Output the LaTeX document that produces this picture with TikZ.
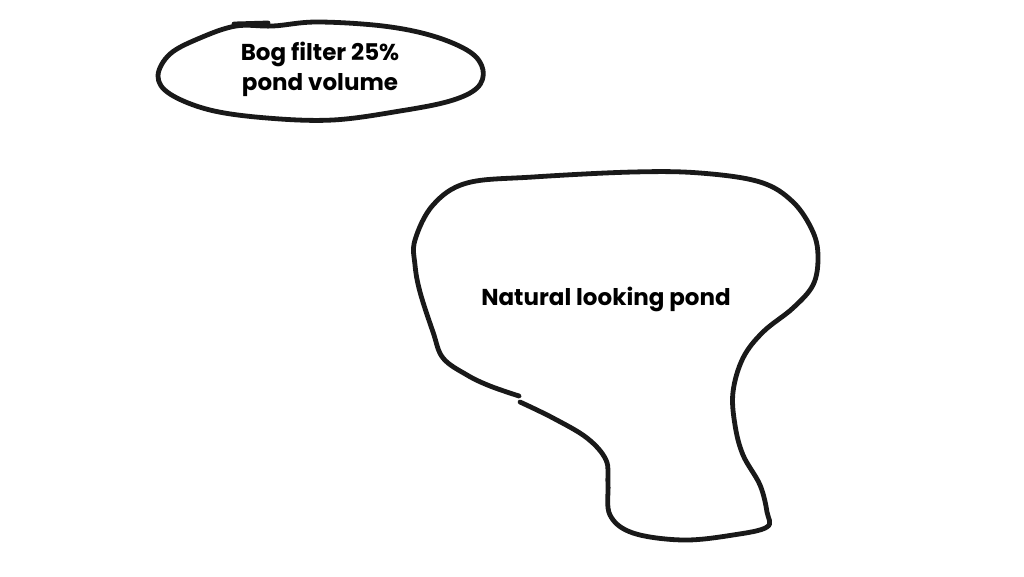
\documentclass[tikz,border=0pt]{standalone}
\usepackage{fontspec}
\setmainfont{Poppins}
\usetikzlibrary{positioning}

\begin{document}
\begin{tikzpicture}[x=1pt,y=-1pt,
    sketch/.style={draw=black!90, line width=4.8pt, line cap=round, line join=round}]

    \useasboundingbox[fill=white] (0,0) rectangle (1024,576);

    % bog filter outline
    \draw[sketch] plot[smooth cycle, tension=0.6] coordinates {
        (236,26) (273,26) (317,22) (383,26) (433,36) (470,52) (483,70)
        (477,88) (450,101) (400,111) (333,120) (267,118) (210,110)
        (170,94) (158,76) (170,54) (200,38)};
    \draw[sketch] (234,24) -- (268,23);

    % pond outline
    \draw[sketch] plot[smooth, tension=0.6] coordinates {
        (520,402) (553,418) (587,438) (606,460) (608,484) (610,515)
        (633,533) (683,540) (733,535) (767,527) (767,512) (760,485)
        (743,455) (735,425) (733,392) (743,358) (763,332) (793,308)
        (813,285) (818,258) (813,232) (793,202) (760,182) (700,173)
        (633,172) (533,177) (467,183) (433,205) (415,240) (415,265)
        (420,292) (433,332) (443,358) (467,375) (490,386) (519,396)};

    \node[font=\bfseries\fontsize{23}{30}\selectfont,
          align=center
          ] (bog) at (320,69) {Bog filter 25\%\\pond volume};

    \node[font=\bfseries\fontsize{23}{30}\selectfont
          ] (pond) at (606,299) {Natural looking pond};

\end{tikzpicture}
\end{document}
